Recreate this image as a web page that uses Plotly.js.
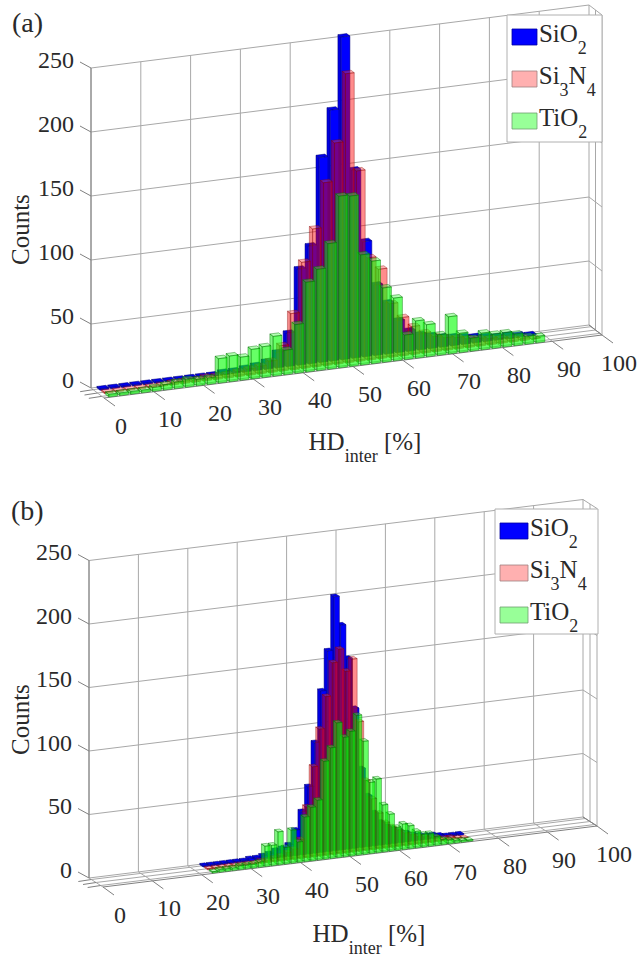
<!DOCTYPE html>
<html><head><meta charset="utf-8">
<script src="https://cdn.plot.ly/plotly-3.0.1.min.js"></script>
<style>html,body{margin:0;padding:0;background:#fff}#plot{width:638px;height:957px}</style>
</head><body><div id="plot"></div>
<script>
// Histogram counts, one value per bin
const sio2A = [1,1,1,1,1,1,1,1,1,1, 1,2,2,3,4,6,12,26,75,92,160,196,252,147,90,55,40,25,16,12,10,8,7,6,5,4,3,3,2,1];
const si3n4A = [1,1,1,1,1,1,2,2,2,3, 3,3,4,5,6,9,20,44,83,108,143,173,226,149,80,70,42,30,22,16,12,10,9,7,6,5,4,3,2,0.5];
const tio2A = [2,2,2,2,3,4,5,6,5,5, 19,20,18,23,24,31,19,38,70,79,98,134,133,86,80,58,49,19,29,25,16,29,15,10,13,11,11,9,6,5];
const sio2B = [1,1,1,1,1,1,1,2, 2,3,4,6,7,9,20,34, 53,87,127,158,200,177,150,110, 62,40,26,18,14,11,9,7, 5,4,3,3,2,1,1,1];
const si3n4B = [1,1,1,1,1,1,1,1, 2,2,3,4,6,8,15,40, 71,100,125,151,161,143,152,102, 55,40,28,20,16,13,10,8, 6,5,4,3,2,2,1,0.5];
const tio2B = [1,2,2,2,3,3,3,4, 16,16,26,13,26,16,35,42, 47,77,87,106,94,98,110,89, 56,58,37,29,18,20,18,13, 10,10,7,4,3,2,1.5,1];
const xTicks = [0,10,20,30,40,50,60,70,80,90,100];
const zTicks = [0,50,100,150,200,250];
const seriesNames = ['SiO<sub>2</sub>','Si<sub>3</sub>N<sub>4</sub>','TiO<sub>2</sub>'];
const axisTitleX = 'HD<sub>inter</sub> [%]';
const axisTitleZ = 'Counts';

// Oblique view of each panel
const panelA = {ox:91,oy:388,sx:4.98,sy:-0.63,dx:13,dy:10,sz:1.28,x0:1.07,b:2.2,
  sets:[sio2A,si3n4A,tio2A],tag:'(a)',tagAt:[27,22],titleAt:[365,443],zTitleAt:[20,230],
  legend:{x:507,y:15,w:95,h:127,sw:[512,537],rows:[29,71,113],sh:16,tx:537}};
const panelB = {ox:89,oy:878,sx:4.94,sy:-0.61,dx:14,dy:9,sz:1.27,x0:22.3,b:1.325,
  sets:[sio2B,si3n4B,tio2B],tag:'(b)',tagAt:[27,510],titleAt:[369,935],zTitleAt:[20,720],
  legend:{x:495,y:509,w:103,h:125,sw:[500,528],rows:[523,565,607],sh:16,tx:528}};
const panels = [panelA,panelB];

const P = (p,x,d,z)=>[p.ox+p.sx*x+p.dx*d, p.oy+p.sy*x+p.dy*d-p.sz*z];

const rowDepth = [1/6,1/2,5/6];
const halfDepth = 0.125;
const styles = [
 {front:'rgb(0,0,255)',left:'rgb(0,0,225)',top:'rgb(0,0,235)',line:'rgba(0,0,120,0.7)'},
 {front:'rgba(255,0,0,0.45)',left:'rgba(235,0,0,0.45)',top:'rgba(255,60,60,0.4)',line:'rgba(130,0,0,0.5)'},
 {front:'rgba(0,255,0,0.6)',left:'rgba(0,235,0,0.5)',top:'rgba(60,255,60,0.4)',line:'rgba(0,110,0,0.6)'}
];

const traces=[], shapes=[], annotations=[];

function polyline(xs,ys,pts){pts.forEach(q=>{xs.push(q[0]);ys.push(q[1]);});xs.push(null);ys.push(null);}

function addGrid(p){
  const gx=[],gy=[],ax=[],ay=[];
  const zTop=zTicks[zTicks.length-1];
  xTicks.forEach(t=>{
    polyline(gx,gy,[P(p,t,0,0),P(p,t,0,zTop)]);
    polyline(gx,gy,[P(p,t,0,0),P(p,t,1,0)]);
    const f=P(p,t,1,0);
    polyline(ax,ay,[f,[f[0]+11,f[1]+8]]);
  });
  zTicks.forEach(t=>{
    polyline(gx,gy,[P(p,0,0,t),P(p,100,0,t),P(p,100,1,t)]);
    const w=P(p,0,0,t);
    polyline(ax,ay,[w,[w[0]-11,w[1]-6]]);
  });
  [0.5,1].forEach(d=>polyline(gx,gy,[P(p,100,d,0),P(p,100,d,zTop)]));
  rowDepth.forEach(d=>{
    polyline(gx,gy,[P(p,0,d,0),P(p,100,d,0)]);
    const s=P(p,0,d,0);
    polyline(ax,ay,[s,[s[0]-13,s[1]+2]]);
  });
  polyline(ax,ay,[P(p,0,1,0),P(p,100,1,0),P(p,100,0,0)]);
  polyline(ax,ay,[P(p,0,0,0),P(p,0,0,zTop)]);
  traces.push({type:'scatter',mode:'lines',x:gx,y:gy,hoverinfo:'skip',showlegend:false,line:{color:'#a8a8a8',width:1}});
  traces.push({type:'scatter',mode:'lines',x:ax,y:ay,hoverinfo:'skip',showlegend:false,line:{color:'#808080',width:1}});
}

function addBars(p,values,row,st,name){
  const d1=rowDepth[row]-halfDepth,d2=rowDepth[row]+halfDepth;
  const faces={left:[[],[]],top:[[],[]],front:[[],[]]};
  values.forEach((h,k)=>{
    const x1=p.x0+k*p.b,x2=x1+0.8*p.b;
    polyline(faces.left[0],faces.left[1],[P(p,x1,d1,0),P(p,x1,d2,0),P(p,x1,d2,h),P(p,x1,d1,h),P(p,x1,d1,0)]);
    polyline(faces.top[0],faces.top[1],[P(p,x1,d1,h),P(p,x2,d1,h),P(p,x2,d2,h),P(p,x1,d2,h),P(p,x1,d1,h)]);
    polyline(faces.front[0],faces.front[1],[P(p,x1,d2,0),P(p,x2,d2,0),P(p,x2,d2,h),P(p,x1,d2,h),P(p,x1,d2,0)]);
  });
  ['left','top','front'].forEach(f=>{
    traces.push({type:'scatter',mode:'lines',name:name,x:faces[f][0],y:faces[f][1],fill:'toself',
      fillcolor:st[f],line:{color:st.line,width:0.7},hoverinfo:'skip',showlegend:false});
  });
}

const serif='"Liberation Serif","Times New Roman",serif';
function label(x,y,text,size,opt){
  annotations.push(Object.assign({xref:'x',yref:'y',x:x,y:y,text:text,showarrow:false,
    font:{family:serif,size:size,color:'#2a2a2a'},xanchor:'center',yanchor:'middle'},opt||{}));
}

panels.forEach(p=>{
  addGrid(p);
  p.sets.forEach((vals,i)=>addBars(p,vals,i,styles[i],seriesNames[i]));
  xTicks.forEach(t=>{const q=P(p,t,1,0);label(q[0]+16.5,q[1]+27.5,String(t),24);});
  zTicks.forEach(t=>{const q=P(p,0,0,t);label(q[0]-15,q[1]-8.5,String(t),24,{xanchor:'right'});});
  label(p.titleAt[0],p.titleAt[1],axisTitleX,25);
  label(p.zTitleAt[0],p.zTitleAt[1],axisTitleZ,25,{textangle:-90});
  label(p.tagAt[0],p.tagAt[1],p.tag,28);
  const L=p.legend;
  shapes.push({type:'rect',xref:'x',yref:'y',x0:L.x,x1:L.x+L.w,y0:L.y,y1:L.y+L.h,fillcolor:'#fff',line:{color:'#b0b0b0',width:1},layer:'above'});
  const swatch=['#0000ff','#ffb0b0','#98ff98'],edge=['#0000a0','#a08080','#70a070'];
  L.rows.forEach((r,i)=>{
    shapes.push({type:'rect',xref:'x',yref:'y',x0:L.sw[0],x1:L.sw[1],y0:r,y1:r+L.sh,fillcolor:swatch[i],line:{color:edge[i],width:0.8},layer:'above'});
    label(L.tx,r+6,seriesNames[i],25,{xanchor:'left'});
  });
});

// Deeper, larger subscripts as in the reference, without zero-width spacers
function tuneSubscripts(root){
  const drop=12, subSize=18;
  root.querySelectorAll('.annotation-text').forEach(t=>{
    Array.from(t.childNodes).forEach(n=>{
      if(n.nodeType===3){ n.nodeValue=n.nodeValue.replace(/\u200b/g,''); return; }
      if(n.textContent==='\u200b'){
        const next=n.nextSibling;
        if(next&&next.nodeType===3){
          const w=document.createElementNS('http://www.w3.org/2000/svg','tspan');
          w.setAttribute('dy',-drop);
          t.insertBefore(w,next);
          w.appendChild(next);
          w.textContent=w.textContent.replace(/\u200b/g,'');
        }
        n.remove();
      } else if(n.getAttribute('dy')){
        n.setAttribute('dy',drop);
        n.style.fontSize=subSize+'px';
      }
    });
  });
}

Plotly.newPlot('plot',traces,{
  width:638,height:957,margin:{l:0,r:0,t:0,b:0},paper_bgcolor:'#fff',plot_bgcolor:'#fff',showlegend:false,
  xaxis:{range:[0,638],visible:false,fixedrange:true},
  yaxis:{range:[957,0],visible:false,fixedrange:true},
  shapes:shapes,annotations:annotations
},{staticPlot:true,displayModeBar:false}).then(gd=>tuneSubscripts(gd));
</script></body></html>
